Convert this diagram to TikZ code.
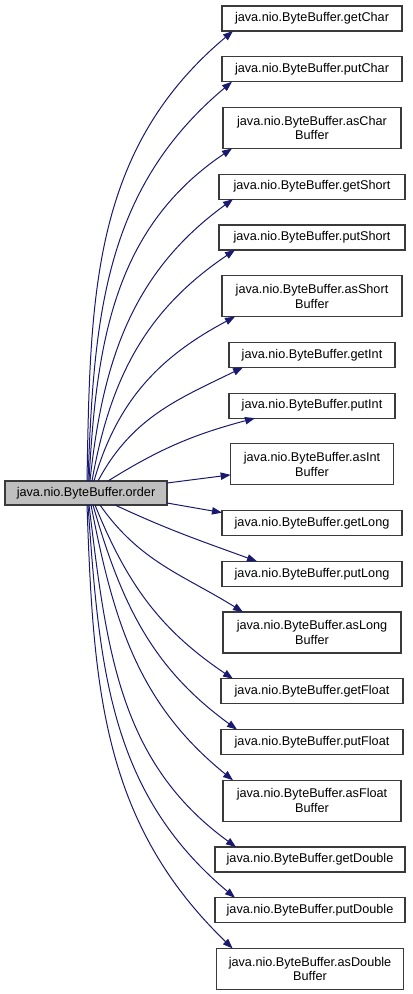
\documentclass[tikz,border=0pt]{standalone}
\usepackage{fontspec}
\setmainfont{Liberation Sans}
\usetikzlibrary{positioning,arrows.meta,calc}
\definecolor{edgeblue}{HTML}{191970}
\definecolor{rootgray}{HTML}{BFBFBF}
\definecolor{frame}{HTML}{3A3A3A}

\begin{document}
\begin{tikzpicture}[
    x=0.75pt, y=0.75pt,
    node distance=19.3pt,
    fn/.style={draw=frame, fill=white, line width=0.9pt, outer sep=0pt, minimum width=135pt, minimum height=18.75pt, inner sep=0pt, align=center, font=\fontsize{9.5}{11}\selectfont},
    fnb/.style={fn, minimum height=30.75pt},
    root/.style={fn, fill=rootgray, minimum width=121.5pt, minimum height=18pt},
    arr/.style={-{Triangle[length=7.5pt,width=5.5pt]}, draw=edgeblue, line width=0.75pt}
]
    \useasboundingbox (0,0) rectangle (412,-994);

    % Caller
    \node[root] (order) at (86,-493) {java.nio.ByteBuffer.order};

    % Callees, top to bottom
    \node[fn] (getChar) at (312,-18.5) {java.nio.ByteBuffer.getChar};
    \node[fn, below=of getChar] (putChar) {java.nio.ByteBuffer.putChar};
    \node[fnb, minimum width=133.5pt, below=of putChar] (asChar) {java.nio.ByteBuffer.asChar\\Buffer};
    \node[fn, minimum width=139.5pt, below=of asChar] (getShort) {java.nio.ByteBuffer.getShort};
    \node[fn, minimum width=139.5pt, below=of getShort] (putShort) {java.nio.ByteBuffer.putShort};
    \node[fnb, below=of putShort] (asShort) {java.nio.ByteBuffer.asShort\\Buffer};
    \node[fn, minimum width=124.5pt, below=of asShort] (getInt) {java.nio.ByteBuffer.getInt};
    \node[fn, minimum width=124.5pt, below=of getInt] (putInt) {java.nio.ByteBuffer.putInt};
    \node[fnb, minimum width=122pt, below=of putInt] (asInt) {java.nio.ByteBuffer.asInt\\Buffer};
    \node[fn, below=of asInt] (getLong) {java.nio.ByteBuffer.getLong};
    \node[fn, below=of getLong] (putLong) {java.nio.ByteBuffer.putLong};
    \node[fnb, minimum width=133.5pt, below=of putLong] (asLong) {java.nio.ByteBuffer.asLong\\Buffer};
    \node[fn, minimum width=136.5pt, below=of asLong] (getFloat) {java.nio.ByteBuffer.getFloat};
    \node[fn, minimum width=136.5pt, below=of getFloat] (putFloat) {java.nio.ByteBuffer.putFloat};
    \node[fnb, minimum width=133.5pt, below=of putFloat] (asFloat) {java.nio.ByteBuffer.asFloat\\Buffer};
    \node[fn, minimum width=142.5pt, below=of asFloat, xshift=-1.5pt] (getDouble) {java.nio.ByteBuffer.getDouble};
    \node[fn, minimum width=142.5pt, below=of getDouble] (putDouble) {java.nio.ByteBuffer.putDouble};
    \node[fnb, minimum width=140pt, below=of putDouble] (asDouble) {java.nio.ByteBuffer.asDouble\\Buffer};

    % Calls going up
    \draw[arr] ($(order.north)+(1,0)$) to[out=89, in=220] ($(getChar.south west)+(11,0)$);
    \draw[arr] ($(order.north)+(2,0)$) to[out=88, in=220] ($(putChar.south west)+(10,0)$);
    \draw[arr] ($(order.north)+(3,0)$) to[out=87, in=214] ($(asChar.south west)+(9,0)$);
    \draw[arr] ($(order.north)+(4,0)$) to[out=84, in=216] ($(getShort.south west)+(14,0)$);
    \draw[arr] ($(order.north)+(6,0)$) to[out=80, in=214] ($(putShort.south west)+(16,0)$);
    \draw[arr] ($(order.north)+(8,0)$) to[out=74, in=208] ($(asShort.south west)+(13,0)$);
    \draw[arr] ($(order.north)+(12,0)$) to[out=62, in=206] ($(getInt.south west)+(14,0)$);
    \draw[arr] ($(order.north)+(22,0)$) to[out=32, in=195] ($(putInt.south west)+(26,0)$);

    % Calls to the side
    \draw[arr] ($(order.north east)+(0,-2)$) -- ($(asInt.south west)+(0,10)$);
    \draw[arr] ($(order.south east)+(0,2)$) -- ($(getLong.north west)+(0,-2)$);

    % Calls going down
    \draw[arr] ($(order.south)+(29,0)$) to[out=-25, in=160] ($(putLong.north west)+(35,0)$);
    \draw[arr] ($(order.south)+(14,0)$) to[out=-55, in=148] ($(asLong.north west)+(20,0)$);
    \draw[arr] ($(order.south)+(9,0)$) to[out=-68, in=146] ($(getFloat.north west)+(12,0)$);
    \draw[arr] ($(order.south)+(7,0)$) to[out=-74, in=144] ($(putFloat.north west)+(16,0)$);
    \draw[arr] ($(order.south)+(5,0)$) to[out=-79, in=141] ($(asFloat.north west)+(10,0)$);
    \draw[arr] ($(order.south)+(3,0)$) to[out=-83, in=144] ($(getDouble.north west)+(21,0)$);
    \draw[arr] ($(order.south)+(2,0)$) to[out=-86, in=140] ($(putDouble.north west)+(20,0)$);
    \draw[arr] ($(order.south)+(1,0)$) to[out=-88, in=136] ($(asDouble.north west)+(16,0)$);
\end{tikzpicture}
\end{document}
